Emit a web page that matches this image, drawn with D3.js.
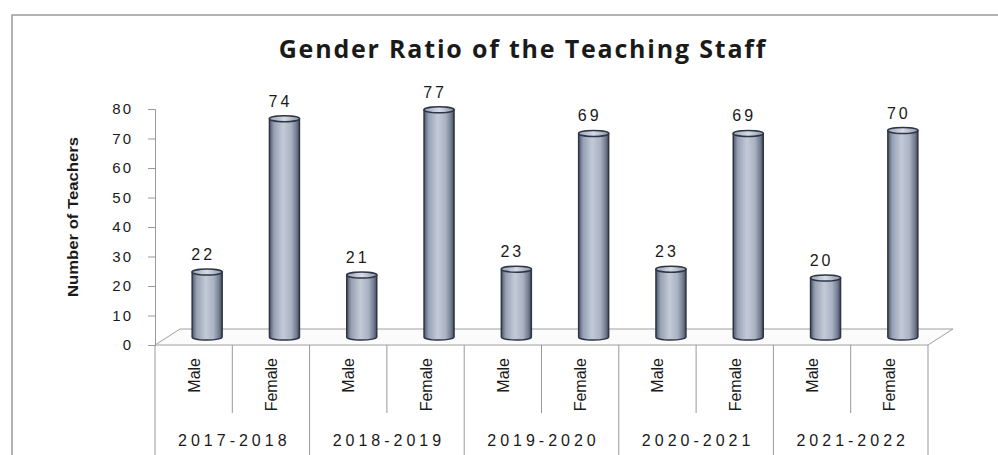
<!DOCTYPE html>
<meta charset="utf-8">
<head>
    <title>Gender Ratio of the Teaching Staff</title>
    <script src="https://d3js.org/d3.v7.min.js"></script>
</head>

<style>
body { margin: 0; background: #fff; }
svg { display: block; }
text { fill: #1a1a1a; }
</style>

<body>

<svg></svg>

<script>

// data
let years = ["2017-2018", "2018-2019", "2019-2020", "2020-2021", "2021-2022"];
let genders = ["Male", "Female"];
let male = [22, 21, 23, 23, 20];
let female = [74, 77, 69, 69, 70];
let yTicks = [0, 10, 20, 30, 40, 50, 60, 70, 80];

let rows = [];
years.forEach(function(yr, i) {
  rows.push({year: yr, gender: genders[0], key: yr + "|Male", value: male[i]});
  rows.push({year: yr, gender: genders[1], key: yr + "|Female", value: female[i]});
});

let W = 998, H = 455;
let svg = d3.select("svg").attr("width", W).attr("height", H);

// outer frame (right edge runs off the page)
svg.append("rect")
  .attr("x", 12).attr("y", 15)
  .attr("width", 1000).attr("height", 460)
  .attr("fill", "#fff")
  .attr("stroke", "#9a9a9a")
  .attr("stroke-width", 1.5);

// title
svg.append("text")
  .attr("x", 523).attr("y", 58)
  .attr("text-anchor", "middle")
  .style("font-family", "'Open Sans', sans-serif")
  .style("font-weight", "bold")
  .style("font-size", "25px")
  .style("letter-spacing", "1.8px")
  .text("Gender Ratio of the Teaching Staff");

// scales
let left = 155, right = 928, base = 345;
let x = d3.scaleBand().domain(rows.map(d => d.key)).range([left, right]).padding(0);
let xYear = d3.scaleBand().domain(years).range([left, right]).padding(0);
let y = d3.scaleLinear().domain([0, 80]).range([base, 109]);

// 3D depth
let dx = 25, dy = -16;

// floor
svg.append("polygon")
  .attr("points", [[left, base], [right, base], [right + dx, base + dy], [left + dx, base + dy]].join(" "))
  .attr("fill", "#fbfbfb")
  .attr("stroke", "#a0a0a0")
  .attr("stroke-width", 1);

// y axis
let yAxis = svg.append("g")
  .attr("transform", "translate(" + left + ",0)")
  .call(d3.axisLeft(y).tickValues(yTicks).tickSize(7).tickPadding(15));
yAxis.select(".domain").attr("stroke", "#999");
yAxis.selectAll(".tick line").attr("stroke", "#999");
yAxis.selectAll(".tick text")
  .style("font-family", "'Liberation Sans', sans-serif")
  .style("font-size", "15px")
  .style("letter-spacing", "2px")
  .attr("fill", "#1a1a1a");

svg.append("text")
  .attr("transform", "translate(78,217) rotate(-90)")
  .attr("text-anchor", "middle")
  .attr("textLength", 160)
  .attr("lengthAdjust", "spacingAndGlyphs")
  .style("font-family", "'Liberation Sans Narrow', 'Liberation Sans', sans-serif")
  .style("font-size", "15px")
  .style("font-weight", "bold")
  .text("Number of Teachers");

// category separators (x axis)
let sep = svg.append("g").attr("stroke", "#999").attr("stroke-width", 1);
x.domain().forEach(function(k, i) {
  let xs = x(k) + x.bandwidth();
  let isGroupEnd = (i % 2 === 1);
  sep.append("line")
    .attr("x1", xs).attr("x2", xs)
    .attr("y1", base).attr("y2", isGroupEnd ? H : 413);
});
sep.append("line").attr("x1", left).attr("x2", left).attr("y1", base).attr("y2", H);

// gender labels
svg.append("g").selectAll("text")
  .data(rows)
  .enter()
  .append("text")
  .attr("transform", d => "translate(" + (x(d.key) + x.bandwidth() / 2 + 6) + ",358) rotate(-90)")
  .attr("text-anchor", "end")
  .style("font-family", "'Liberation Sans', sans-serif")
  .style("font-size", "16px")
  .text(d => d.gender);

// year labels
svg.append("g").selectAll("text")
  .data(years)
  .enter()
  .append("text")
  .attr("x", d => xYear(d) + xYear.bandwidth() / 2 + 2)
  .attr("y", 446)
  .attr("text-anchor", "middle")
  .style("font-family", "'Liberation Sans', sans-serif")
  .style("font-size", "16px")
  .style("letter-spacing", "4px")
  .text(d => d);

// bar gradient (cylinder look)
let defs = svg.append("defs");
let grad = defs.append("linearGradient").attr("id", "cyl").attr("x1", "0").attr("x2", "1").attr("y1", "0").attr("y2", "0");
[["0%", "#4e576a"], ["15%", "#97a1b4"], ["45%", "#c3cad7"], ["72%", "#aab3c3"], ["90%", "#747d90"], ["100%", "#434b5b"]]
  .forEach(s => grad.append("stop").attr("offset", s[0]).attr("stop-color", s[1]));
let gradTop = defs.append("linearGradient").attr("id", "cyltop").attr("x1", "0").attr("x2", "1");
[["0%", "#9aa4b8"], ["50%", "#d6dce6"], ["100%", "#8c96aa"]]
  .forEach(s => gradTop.append("stop").attr("offset", s[0]).attr("stop-color", s[1]));

let bw = 30, ry = 3;
let ox = dx / 2 + 1, oy = dy / 2;

let bars = svg.append("g").selectAll("g")
  .data(rows)
  .enter()
  .append("g");

bars.append("path")
  .attr("d", function(d) {
    let cx = x(d.key) + x.bandwidth() / 2 + ox;
    let x0 = cx - bw / 2, x1 = cx + bw / 2;
    let yb = base + oy, yt = y(d.value) + oy;
    return "M" + x0 + "," + yt + " L" + x0 + "," + yb +
      " A" + (bw / 2) + "," + ry + " 0 0 0 " + x1 + "," + yb +
      " L" + x1 + "," + yt + " Z";
  })
  .attr("fill", "url(#cyl)")
  .attr("stroke", "#2f3543")
  .attr("stroke-width", 1.5);

bars.append("ellipse")
  .attr("cx", d => x(d.key) + x.bandwidth() / 2 + ox)
  .attr("cy", d => y(d.value) + oy)
  .attr("rx", bw / 2)
  .attr("ry", ry)
  .attr("fill", "url(#cyltop)")
  .attr("stroke", "#2f3543")
  .attr("stroke-width", 1.5);

// value labels
bars.append("text")
  .attr("x", d => x(d.key) + x.bandwidth() / 2 + ox - 4)
  .attr("y", d => y(d.value) + oy - 12)
  .attr("text-anchor", "middle")
  .style("font-family", "'Liberation Sans', sans-serif")
  .style("font-size", "16px")
  .style("letter-spacing", "3px")
  .text(d => d.value);

</script>

</body>
